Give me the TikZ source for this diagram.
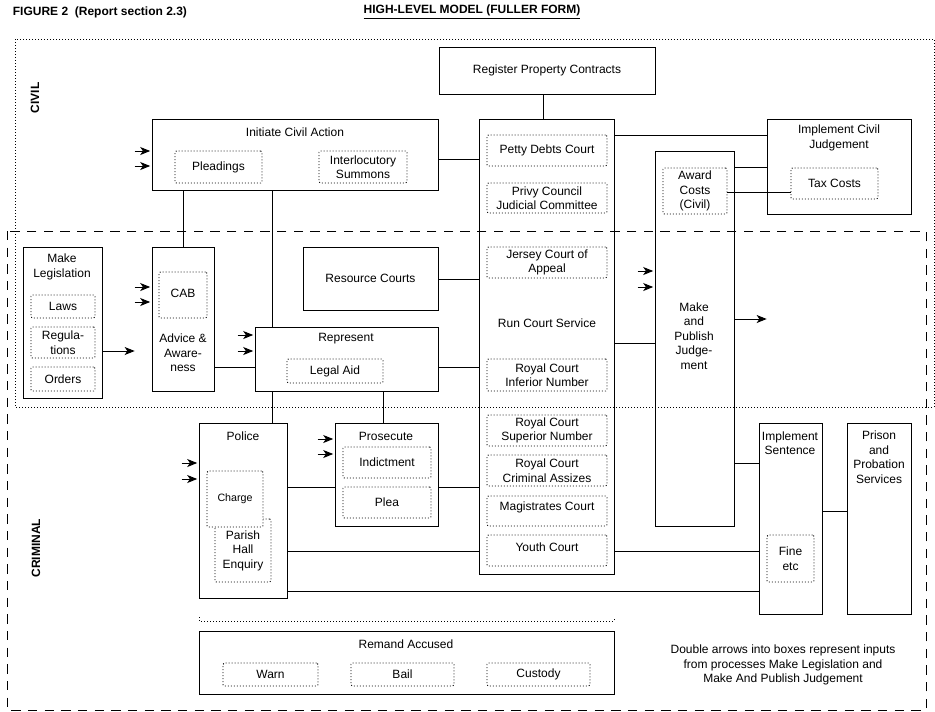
\documentclass[tikz,border=0pt]{standalone}
\usepackage{fontspec}
\setmainfont{Liberation Sans}
\usetikzlibrary{arrows,arrows.meta,fit}

\begin{document}
\begin{tikzpicture}[x=0.75pt, y=-0.75pt, line width=0.7pt,
    font=\fontsize{9}{10.9}\selectfont,
    box/.style={draw, rectangle, inner sep=0pt, align=center},
    part/.style={draw, rectangle, inner sep=0pt, align=center, rounded corners=1pt, dash pattern=on 0.75pt off 1.5pt},
    txt/.style={label={[align=center]center:#1}},
    dotline/.style={dash pattern=on 0.75pt off 1.5pt},
    dashline/.style={dash pattern=on 7pt off 5.5pt},
    inarrow/.style={-{Stealth[length=7.5pt, width=6pt, inset=2pt]}, shorten >=1pt},
    heading/.style={font=\fontsize{9}{10.9}\selectfont\bfseries}]

\useasboundingbox (0,0) rectangle (935,711);

% Titoli
\node[heading, anchor=west] (fig) at (8,12) {FIGURE 2\ \ (Report section 2.3)};
\node[heading] (head) at (472,12) {\underline{HIGH-LEVEL MODEL (FULLER FORM)}};

% Aree civile e penale
\draw[dotline] (15,39) rectangle (934,407); % Civile
\draw[dashline] (7,231) rectangle (926,710); % Penale
\node[heading, rotate=90] (civil) at (35,98) {CIVIL};
\node[heading, rotate=90] (criminal) at (36,548) {CRIMINAL};

% Registro e azione civile
\node[box, fit={(439,47) (655,94)}, txt={Register Property Contracts}] (reg) {};
\node[box, fit={(152,119) (438,190)}] (init) {};
\node (initT) at (295,132) {Initiate Civil Action};
\node[part, fit={(175,151) (262,183)}, txt={Pleadings}] (pleadings) {};
\node[part, fit={(319,151) (407,183)}, txt={Interlocutory\\Summons}] (interloc) {};

% Corti
\node[box, fit={(479,119) (614,574)}] (run) {};
\node (runT) at (547,323) {Run Court Service};
\foreach \nome/\ya/\yb/\testo in {petty/135/166/{Petty Debts Court},
        privy/183/213/{Privy Council\\Judicial Committee},
        jersey/247/278/{Jersey Court of\\Appeal},
        inferior/359/391/{Royal Court\\Inferior Number},
        superior/415/446/{Royal Court\\Superior Number},
        assizes/455/486/{Royal Court\\Criminal Assizes}} {
    \node[part, fit={(487,\ya) (607,\yb)}, txt={\testo}] (\nome) {}; % Sottocorti
}
\node[part, fit={(487,496) (607,526)}] (magis) {};
\node (magisT) at (547,507) {Magistrates Court};
\node[part, fit={(487,535) (607,566)}] (youth) {};
\node (youthT) at (547,547) {Youth Court};
\node[box, fit={(303,247) (438,310)}, txt={Resource Courts}] (resource) {};

% Giudizio ed esecuzione civile
\node[box, fit={(655,151) (734,526)}] (judge) {};
\node[align=center] (judgeT) at (694,336) {Make\\and\\Publish\\Judge-\\ment};
\node[part, fit={(663,168) (727,214)}, txt={Award\\Costs\\(Civil)}] (award) {};
\node[box, fit={(767,119) (911,214)}] (implciv) {};
\node[align=center] (implcivT) at (839,138) {Implement Civil\\Judgement};
\node[part, fit={(791,168) (878,199)}, txt={Tax Costs}] (tax) {};

% Legislazione, consulenza, rappresentanza
\node[box, fit={(23,247) (102,398)}] (legis) {};
\node[align=center] (legisT) at (62,267) {Make\\Legislation};
\node[part, fit={(31,295) (95,318)}, txt={Laws}] (laws) {};
\node[part, fit={(31,327) (95,358)}, txt={Regula-\\tions}] (regs) {};
\node[part, fit={(31,367) (95,391)}, txt={Orders}] (orders) {};
\node[box, fit={(152,247) (214,391)}] (advice) {};
\node[part, fit={(159,272) (207,318)}] (cab) {};
\node (cabT) at (183,293) {CAB};
\node[align=center] (adviceT) at (183,353) {Advice \&\\Aware-\\ness};
\node[box, fit={(255,327) (438,391)}] (repr) {};
\node (reprT) at (346,339) {Represent};
\node[part, fit={(287,359) (383,383)}, txt={Legal Aid}] (legalaid) {};

% Parte penale
\node[box, fit={(199,423) (287,598)}] (police) {};
\node (policeT) at (243,436) {Police};
\node[part, fit={(215,519) (271,582)}, txt={Parish\\Hall\\Enquiry}] (parish) {};
\node[part, fill=white, fit={(207,471) (263,527)}, label={[font=\fontsize{8}{10}\selectfont]center:Charge}] (charge) {};
\node[box, fit={(335,423) (438,526)}] (prosecute) {};
\node (prosecuteT) at (386,436) {Prosecute};
\node[part, fit={(343,447) (431,478)}, txt={Indictment}] (indict) {};
\node[part, fit={(343,487) (431,518)}, txt={Plea}] (plea) {};
\node[box, fit={(759,423) (822,614)}] (implsent) {};
\node[align=center] (implsentT) at (790,443) {Implement\\Sentence};
\node[part, fit={(767,535) (814,582)}, txt={Fine\\etc}] (fine) {};
\node[box, fit={(847,423) (911,614)}] (prison) {};
\node[align=center] (prisonT) at (879,457) {Prison\\and\\Probation\\Services};

% Custodia cautelare
\draw[dotline] (199,617) -- (199,621) -- (614,621) -- (614,617);
\node[box, fit={(199,631) (614,694)}] (remand) {};
\node (remandT) at (406,644) {Remand Accused};
\node[part, fit={(223,663) (318,686)}, txt={Warn}] (warn) {};
\node[part, fit={(351,663) (454,686)}, txt={Bail}] (bail) {};
\node[part, fit={(487,663) (590,686)}, txt={Custody}] (custody) {};

% Collegamenti orizzontali
\foreach \da/\a/\y in {init/run/159, run/implciv/135, judge/implciv/167, award/tax/192,
        resource/run/279, advice/repr/367, repr/run/367, run/judge/343,
        police/prosecute/487, prosecute/run/487, police/run/551, run/implsent/551,
        police/implsent/591, judge/implsent/463, implsent/prison/511} {
    \draw (\da.east |- 0,\y) -- (\a.west |- 0,\y);
}

% Collegamenti verticali
\foreach \da/\a/\x in {reg/run/543, init/advice/183, init/repr/272, repr/police/272, repr/prosecute/383} {
    \draw (\da.south -| \x,0) -- (\a.north -| \x,0);
}

% Frecce doppie in ingresso
\foreach \nome/\ya/\yb in {init/151/166, advice/287/302, repr/335/351, judge/271/287, police/463/479, prosecute/439/454} {
    \foreach \y in {\ya,\yb} {
        \draw[inarrow] (\nome.west |- 0,\y) ++(-17,0) -- (\nome.west |- 0,\y);
    }
}

% Frecce in uscita
\coordinate (legisend) at (136,351);
\draw[inarrow] (legis.east |- legisend) -- (legisend);
\coordinate (judgeend) at (768,319);
\draw[inarrow] (judge.east |- judgeend) -- (judgeend);

% Nota
\node[align=center] (note) at (783,665) {Double arrows into boxes represent inputs\\from processes Make Legislation and\\Make And Publish Judgement};

\end{tikzpicture}
\end{document}
